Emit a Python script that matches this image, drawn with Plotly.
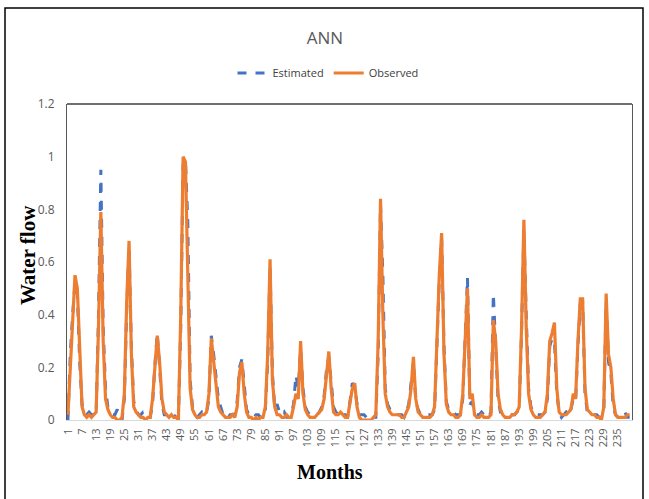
import plotly.graph_objects as go

months = list(range(1, 241))

observed = [
    0.02, 0.20, 0.35, 0.55, 0.50, 0.25, 0.05, 0.02, 0.01, 0.02, 0.01, 0.02,
    0.03, 0.35, 0.79, 0.30, 0.08, 0.04, 0.02, 0.01, 0.01, 0.00, 0.00, 0.01,
    0.10, 0.45, 0.68, 0.25, 0.05, 0.03, 0.02, 0.01, 0.01, 0.00, 0.01, 0.01,
    0.08, 0.20, 0.32, 0.22, 0.08, 0.03, 0.02, 0.01, 0.02, 0.01, 0.01, 0.00,
    0.40, 1.00, 0.98, 0.55, 0.12, 0.04, 0.02, 0.01, 0.01, 0.02, 0.02, 0.03,
    0.10, 0.31, 0.22, 0.12, 0.05, 0.03, 0.02, 0.01, 0.01, 0.01, 0.02, 0.01,
    0.05, 0.18, 0.22, 0.10, 0.03, 0.01, 0.01, 0.00, 0.01, 0.00, 0.01, 0.01,
    0.05, 0.25, 0.61, 0.15, 0.05, 0.02, 0.02, 0.01, 0.01, 0.02, 0.01, 0.01,
    0.05, 0.10, 0.08, 0.30, 0.10, 0.04, 0.02, 0.01, 0.01, 0.01, 0.02, 0.03,
    0.04, 0.08, 0.18, 0.26, 0.12, 0.03, 0.02, 0.02, 0.03, 0.02, 0.01, 0.01,
    0.06, 0.12, 0.14, 0.05, 0.01, 0.00, 0.00, 0.00, 0.00, 0.00, 0.01, 0.02,
    0.30, 0.84, 0.40, 0.10, 0.05, 0.03, 0.02, 0.02, 0.02, 0.02, 0.01, 0.01,
    0.03, 0.05, 0.12, 0.24, 0.08, 0.03, 0.02, 0.01, 0.01, 0.01, 0.01, 0.02,
    0.05, 0.30, 0.55, 0.71, 0.25, 0.06, 0.03, 0.02, 0.02, 0.01, 0.01, 0.02,
    0.10, 0.30, 0.50, 0.08, 0.10, 0.02, 0.01, 0.01, 0.02, 0.01, 0.01, 0.01,
    0.02, 0.38, 0.30, 0.10, 0.04, 0.02, 0.01, 0.01, 0.01, 0.02, 0.02, 0.03,
    0.05, 0.35, 0.76, 0.35, 0.10, 0.04, 0.02, 0.01, 0.01, 0.01, 0.02, 0.03,
    0.10, 0.30, 0.33, 0.37, 0.12, 0.03, 0.02, 0.02, 0.02, 0.03, 0.04, 0.10,
    0.08, 0.30, 0.46, 0.46, 0.12, 0.04, 0.03, 0.02, 0.02, 0.01, 0.01, 0.00,
    0.05, 0.48, 0.25, 0.20, 0.08, 0.02, 0.01, 0.01, 0.01, 0.01, 0.02, 0.02,
]

estimated = [
    0.00, 0.25, 0.40, 0.52, 0.48, 0.22, 0.06, 0.03, 0.02, 0.03, 0.02, 0.02,
    0.02, 0.40, 0.95, 0.35, 0.12, 0.05, 0.03, 0.02, 0.02, 0.04, 0.01, 0.00,
    0.08, 0.42, 0.66, 0.27, 0.07, 0.04, 0.02, 0.02, 0.03, 0.03, 0.01, 0.01,
    0.06, 0.21, 0.33, 0.20, 0.06, 0.02, 0.02, 0.02, 0.01, 0.02, 0.01, 0.01,
    0.35, 0.97, 0.99, 0.75, 0.15, 0.05, 0.02, 0.01, 0.02, 0.03, 0.02, 0.03,
    0.08, 0.32, 0.25, 0.17, 0.08, 0.05, 0.02, 0.02, 0.01, 0.02, 0.02, 0.02,
    0.07, 0.20, 0.23, 0.12, 0.04, 0.02, 0.02, 0.01, 0.02, 0.02, 0.01, 0.01,
    0.04, 0.22, 0.58, 0.18, 0.04, 0.06, 0.03, 0.02, 0.03, 0.01, 0.01, 0.02,
    0.06, 0.17, 0.12, 0.27, 0.12, 0.05, 0.03, 0.02, 0.02, 0.02, 0.02, 0.03,
    0.05, 0.09, 0.19, 0.24, 0.14, 0.05, 0.03, 0.02, 0.03, 0.02, 0.02, 0.01,
    0.07, 0.14, 0.13, 0.06, 0.02, 0.02, 0.02, 0.01, 0.01, 0.02, 0.01, 0.01,
    0.25, 0.82, 0.55, 0.12, 0.06, 0.04, 0.03, 0.03, 0.02, 0.02, 0.02, 0.01,
    0.03, 0.06, 0.13, 0.22, 0.07, 0.04, 0.02, 0.02, 0.02, 0.02, 0.02, 0.02,
    0.04, 0.28, 0.53, 0.69, 0.28, 0.07, 0.04, 0.03, 0.03, 0.02, 0.02, 0.02,
    0.08, 0.32, 0.54, 0.06, 0.07, 0.03, 0.02, 0.02, 0.03, 0.02, 0.01, 0.01,
    0.03, 0.48, 0.28, 0.08, 0.03, 0.03, 0.03, 0.02, 0.02, 0.02, 0.02, 0.03,
    0.04, 0.33, 0.72, 0.40, 0.12, 0.05, 0.03, 0.02, 0.02, 0.02, 0.02, 0.03,
    0.08, 0.28, 0.31, 0.30, 0.10, 0.03, 0.01, 0.02, 0.03, 0.02, 0.04, 0.08,
    0.07, 0.28, 0.44, 0.45, 0.10, 0.03, 0.03, 0.02, 0.02, 0.02, 0.01, 0.01,
    0.04, 0.45, 0.22, 0.18, 0.05, 0.02, 0.01, 0.01, 0.02, 0.03, 0.01, 0.01,
]

x_ticks = list(range(1, 241, 6))
y_ticks = [0, 0.2, 0.4, 0.6, 0.8, 1, 1.2]
y_tick_labels = ["0", "0.2", "0.4", "0.6", "0.8", "1", "1.2"]

fig = go.Figure()
fig.add_trace(go.Scatter(
    x=months, y=estimated, name="Estimated", mode="lines",
    line=dict(color="#4472C4", width=3, dash="dash"),
))
fig.add_trace(go.Scatter(
    x=months, y=observed, name="Observed", mode="lines",
    line=dict(color="#ED7D31", width=3.2),
))

W, H = 649, 499
L, R, T, B = 67, 17, 104, 79
pw, ph = W - L - R, H - T - B

def px(xp):
    return (xp - L) / pw

def py(yp):
    return (H - B - yp) / ph

fig.update_layout(
    width=W, height=H,
    margin=dict(l=L, r=R, t=T, b=B),
    paper_bgcolor="white", plot_bgcolor="white",
    title=dict(text="ANN", xref="container", x=325 / W, xanchor="center",
               yref="container", y=1 - 38 / H, yanchor="middle",
               font=dict(family="Open Sans", size=17, color="#595959")),
    legend=dict(orientation="h", x=px(328), xanchor="center", y=py(73), yanchor="middle",
                font=dict(family="Open Sans", size=11, color="#404040"),
                bgcolor="rgba(0,0,0,0)", itemwidth=30, tracegroupgap=0),
    showlegend=True,
    font=dict(family="Open Sans"),
)

fig.update_xaxes(
    range=[0.6, 241], tickmode="array", tickvals=x_ticks, ticktext=[str(v) for v in x_ticks],
    tickangle=-90, tickfont=dict(family="Open Sans", size=11, color="#595959"),
    showgrid=False, zeroline=False, showline=True, linecolor="#d9d9d9", linewidth=1,
    ticks="", ticklen=0, ticklabelstandoff=3,
)
fig.update_yaxes(
    range=[0, 1.2], tickmode="array", tickvals=y_ticks, ticktext=y_tick_labels,
    tickfont=dict(family="Open Sans", size=12, color="#595959"),
    showgrid=False, zeroline=False, showline=True, mirror=True, linecolor="#595959", linewidth=1.2,
    ticks="", ticklen=0, ticklabelstandoff=9,
)

annotations = [
    dict(text="<b>Months</b>", xref="paper", yref="paper", x=px(330), y=py(472),
         xanchor="center", yanchor="middle", showarrow=False,
         font=dict(family="Liberation Serif", size=20, color="black")),
    dict(text="<b>Water flow</b>", xref="paper", yref="paper", x=px(28), y=py(255),
         xanchor="center", yanchor="middle", showarrow=False, textangle=-90,
         font=dict(family="Liberation Serif", size=21, color="black")),
]

shapes = [
    dict(type="line", xref="paper", yref="paper", x0=0, x1=1, y0=1, y1=1,
         line=dict(color="#404040", width=1.5)),
    dict(type="rect", xref="paper", yref="paper", x0=px(5), x1=px(643), y0=py(8), y1=py(520),
         line=dict(color="black", width=1.5), fillcolor="rgba(0,0,0,0)", layer="above"),
]
fig.update_layout(shapes=shapes, annotations=annotations)

fig.write_html("out.html")
